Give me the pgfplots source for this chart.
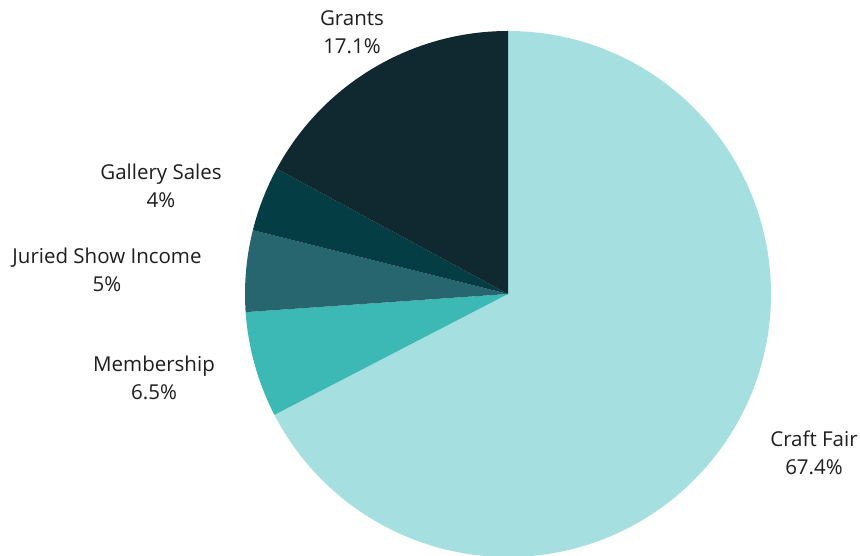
\documentclass[border=0pt]{standalone}
\usepackage{fontspec}
\setmainfont{Open Sans}
\usepackage{pgfplots}
\usepackage{pgfplotstable}
\pgfplotsset{compat=1.18}

\definecolor{craft}{HTML}{A5DFE0}
\definecolor{member}{HTML}{3CB9B4}
\definecolor{juried}{HTML}{27656F}
\definecolor{gallery}{HTML}{053D44}
\definecolor{grants}{HTML}{10282F}
\definecolor{txt}{HTML}{1E1E1E}

% slices clockwise from 12 o'clock
\pgfplotstableread[col sep=comma]{
label,value,color
Craft Fair,67.4,craft
Membership,6.5,member
Juried Show Income,5,juried
Gallery Sales,4,gallery
Grants,17.1,grants
}\piedata

\begin{document}
\begin{tikzpicture}[
  lbl/.style={font=\fontsize{20.5}{28}\selectfont, text=txt, align=center, inner sep=0pt},
]
\begin{axis}[
  hide axis,
  x=1pt, y=1pt,
  xmin=0, xmax=860, ymin=0, ymax=556,
]
\path (rel axis cs:0,0) rectangle (rel axis cs:1,1);
\def\start{90}
\pgfplotsforeachungrouped \i in {0,...,4}{
  \pgfplotstablegetelem{\i}{value}\of\piedata \let\v\pgfplotsretval
  \pgfplotstablegetelem{\i}{color}\of\piedata \let\c\pgfplotsretval
  \pgfmathsetmacro{\stop}{\start-3.6*\v}
  \edef\temp{\noexpand\fill[\c] (axis cs:508,262) -- ++(\start:263pt)
    arc[start angle=\start, end angle=\stop, radius=263pt] -- cycle;}
  \temp
  \global\let\start\stop
}
\node[lbl] at (axis cs:814,103) {Craft Fair\\67.4\%};
\node[lbl] at (axis cs:154,178) {Membership\\6.5\%};
\node[lbl] at (axis cs:107,286) {Juried Show Income\\5\%};
\node[lbl] at (axis cs:161,370) {Gallery Sales\\4\%};
\node[lbl] at (axis cs:352,524) {Grants\\17.1\%};
\end{axis}
\end{tikzpicture}
\end{document}
